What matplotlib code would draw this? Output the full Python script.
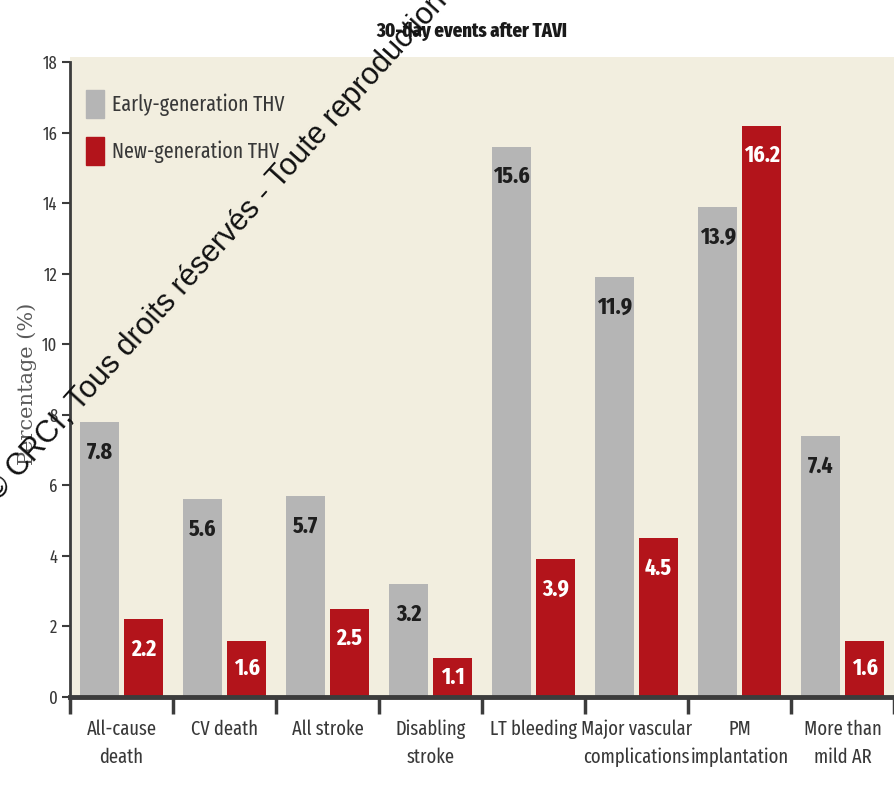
import matplotlib.pyplot as plt
import numpy as np
from matplotlib.patches import Patch

# 30-day outcomes, early vs new generation valves
categories = ["All-cause\ndeath", "CV death", "All stroke", "Disabling\nstroke",
              "LT bleeding", "Major vascular\ncomplications", "PM\nimplantation",
              "More than\nmild AR"]
early_gen = [7.8, 5.6, 5.7, 3.2, 15.6, 11.9, 13.9, 7.4]
new_gen = [2.2, 1.6, 2.5, 1.1, 3.9, 4.5, 16.2, 1.6]
y_ticks = [0, 2, 4, 6, 8, 10, 12, 14, 16, 18]

narrow = ["Fira Sans Extra Condensed", "Roboto Condensed", "DejaVu Sans"]
grey = "#b5b5b5"
red = "#b3141b"
beige = "#f2eedf"
ink = "#383838"

fig = plt.figure(figsize=(8.94, 7.91), dpi=100)
ax = fig.add_axes([70 / 894, 1 - 697 / 791, 1 - 70 / 894, 640 / 791])
ax.set_facecolor(beige)

x = np.arange(len(categories))
w = 0.38
ax.bar(x + 0.29, early_gen, width=w, color=grey, zorder=2)
ax.bar(x + 0.715, new_gen, width=w, color=red, zorder=2)

# values printed inside the top of each bar
for xi, v in zip(x + 0.29, early_gen):
    ax.text(xi, v - min(0.85, v * 0.5), f"{v}", ha="center", va="center",
            family=narrow, fontweight="bold", fontsize=17, color="#1e1e1e", zorder=3)
for xi, v in zip(x + 0.715, new_gen):
    ax.text(xi, v - min(0.85, v * 0.5), f"{v}", ha="center", va="center",
            family=narrow, fontweight="bold", fontsize=17, color="white", zorder=3)

ax.set_xlim(0, len(categories))
ax.set_ylim(0, 18 * 640 / 635)
ax.set_yticks(y_ticks)
ax.set_yticklabels([str(t) for t in y_ticks], family=narrow, fontsize=13, color=ink)
ax.set_xticks(np.arange(len(categories) + 1))
ax.set_xticklabels([])
ax.set_xticks(x + 0.5, minor=True)
ax.set_xticklabels(categories, minor=True, family=narrow, fontsize=14.5,
                   color=ink, linespacing=1.55)
ax.tick_params(axis="x", which="minor", length=0, pad=16)
ax.tick_params(axis="x", which="major", direction="out", length=12, width=2.5, color="#3c3c3c")
ax.tick_params(axis="y", direction="out", length=6, width=1.5, color="#3c3c3c", pad=3)

for s in ("top", "right"):
    ax.spines[s].set_visible(False)
ax.spines["left"].set_bounds(0, 18)
ax.spines["left"].set_linewidth(2)
ax.spines["left"].set_color("#3c3c3c")
ax.spines["bottom"].set_linewidth(3.5)
ax.spines["bottom"].set_color("#3c3c3c")

ax.set_ylabel("Percentage (%)", family="DejaVu Serif", fontsize=15, color="#5a5a5a")
ax.yaxis.set_label_coords(-0.04, 0.49)

handles = [Patch(color=grey, label="Early-generation THV"),
           Patch(color=red, label="New-generation THV")]
leg = ax.legend(handles=handles, loc="upper left", bbox_to_anchor=(-0.004, 0.978),
                frameon=False, handlelength=0.85, handleheight=1.6, handletextpad=0.35,
                labelspacing=0.9, prop={"family": narrow, "size": 15.5})
for t in leg.get_texts():
    t.set_color(ink)

fig.text(472 / 894, 1 - 31 / 791, "30-day events after TAVI", ha="center", va="center",
         family=narrow, fontweight="heavy", fontsize=14.5, color="#1a1a1a")

fig.text(3 / 894, 1 - 507 / 791, "© CRCI, Tous droits réservés - Toute reproduction",
         ha="left", va="bottom", rotation=48, rotation_mode="anchor",
         family="Liberation Sans", fontsize=22, color="#111111")

fig.savefig("out.png", dpi=100)
